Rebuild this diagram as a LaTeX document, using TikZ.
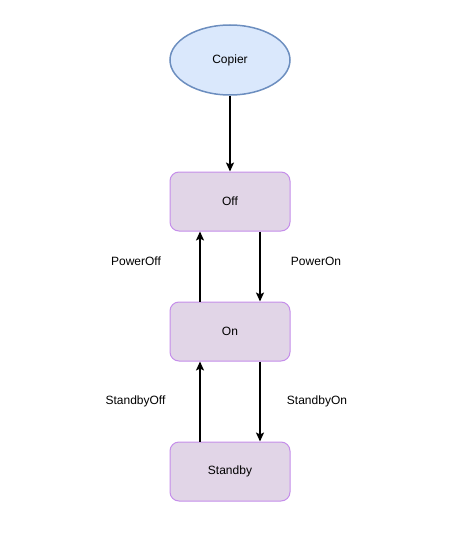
\documentclass[tikz,border=0pt]{standalone}
\usepackage{fontspec}
\setmainfont{Liberation Sans}
\usetikzlibrary{arrows.meta,shapes.geometric}
\definecolor{copierfill}{HTML}{DAE8FC}
\definecolor{copierline}{HTML}{6C8EBF}
\definecolor{statefill}{HTML}{E1D5E7}
\definecolor{stateline}{HTML}{C58EEA}
\begin{document}
\begin{tikzpicture}[x=1pt,y=-1pt,
    font=\fontsize{12}{14}\selectfont,
    state/.style={draw=stateline,line width=1pt,fill=statefill,rounded corners=9pt,minimum width=120pt,minimum height=59pt,inner sep=0pt},
    flow/.style={line width=2pt,-{Stealth[length=9pt,width=8pt,inset=2pt]}}]
    \useasboundingbox (0,0) rectangle (455,535);
    \node[ellipse,draw=copierline,line width=1.5pt,fill=copierfill,minimum width=120pt,minimum height=70pt,inner sep=0pt] (copier) at (230,60) {Copier};
    \node[state] (off) at (230,201.5) {Off};
    \node[state] (on) at (230,331.5) {On};
    \node[state] (standby) at (230,471.5) {Standby};
    \draw[flow] (copier.south) -- (off.north);
    \draw[flow] ([xshift=30pt]off.south) -- ([xshift=30pt]on.north);
    \draw[flow] ([xshift=-30pt]on.north) -- ([xshift=-30pt]off.south);
    \draw[flow] ([xshift=30pt]on.south) -- ([xshift=30pt]standby.north);
    \draw[flow] ([xshift=-30pt]standby.north) -- ([xshift=-30pt]on.south);
    \node (poweroff) at (136,261) {PowerOff};
    \node (poweron) at (316,261) {PowerOn};
    \node (standbyoff) at (135.5,401) {StandbyOff};
    \node (standbyon) at (317,401) {StandbyOn};
\end{tikzpicture}
\end{document}
